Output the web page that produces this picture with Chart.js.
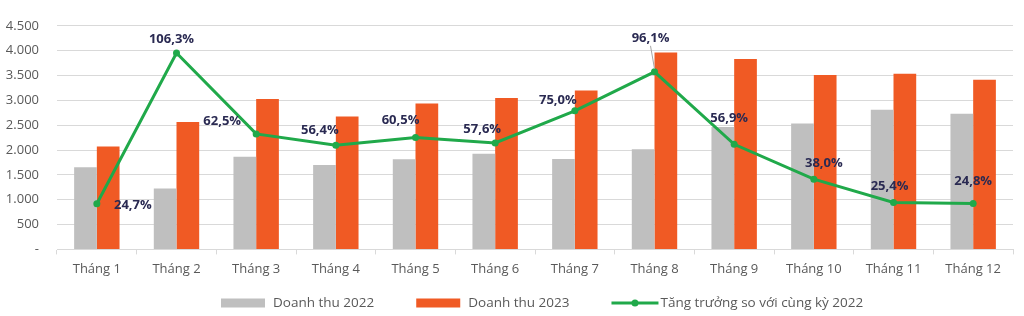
<!DOCTYPE html>
<html>
<head>
<meta charset="utf-8">
<script src="https://cdn.jsdelivr.net/npm/chart.js@4"></script>
<style>
    html, body { margin: 0; padding: 0; background: #ffffff; }
    #wrap { width: 1024px; height: 316px; }
</style>
</head>
<body>
<div id="wrap"><canvas id="revenueChart" width="1024" height="316"></canvas></div>
<script>
// dữ liệu
const months = ['Tháng 1', 'Tháng 2', 'Tháng 3', 'Tháng 4', 'Tháng 5', 'Tháng 6',
                'Tháng 7', 'Tháng 8', 'Tháng 9', 'Tháng 10', 'Tháng 11', 'Tháng 12'];
const revenue2022 = [1655, 1227, 1864, 1700, 1812, 1923, 1819, 2016, 2463, 2535, 2811, 2732];
const revenue2023 = [2069, 2562, 3028, 2673, 2937, 3048, 3199, 3962, 3830, 3509, 3535, 3416];
const growthPct = [24.7, 106.3, 62.5, 56.4, 60.5, 57.6, 75.0, 96.1, 56.9, 38.0, 25.4, 24.8];
const yTicks = [0, 500, 1000, 1500, 2000, 2500, 3000, 3500, 4000, 4500];

// vị trí nhãn % so với điểm (chỉ là kiểu trình bày)
const labelOffsets = [[36, 2], [-5, -14], [-34, -13], [-16, -15], [-15, -17], [-13, -14],
                      [-17, -11], [-4, -34], [-5, -26], [10, -16], [-4, -16], [0, -22]];

const GREY = '#bfbfbf';
const ORANGE = '#f05a24';
const GREEN = '#20a94a';
const TEXT = '#595959';

function fmtThousand(v) {
    if (v === 0) return '-';
    return String(v).replace(/\B(?=(\d{3})+(?!\d))/g, '.');
}

function fmtPct(v) {
    return v.toFixed(1).replace('.', ',') + '%';
}

// plugin tự vẽ nhãn phần trăm trên đường tăng trưởng
const growthLabels = {
    id: 'growthLabels',
    afterDatasetsDraw(chart) {
        const meta = chart.getDatasetMeta(2);
        const ctx = chart.ctx;
        ctx.save();
        ctx.font = 'bold 13px "Open Sans"';
        ctx.fillStyle = '#2a2a52';
        ctx.textAlign = 'center';
        ctx.textBaseline = 'middle';
        meta.data.forEach((pt, i) => {
            const [dx, dy] = labelOffsets[i];
            const x = pt.x + dx;
            const y = pt.y + dy;
            if (dy < -30) {
                ctx.strokeStyle = '#a6a6a6';
                ctx.lineWidth = 1;
                ctx.beginPath();
                ctx.moveTo(x, y + 8);
                ctx.lineTo(pt.x, pt.y - 3);
                ctx.stroke();
            }
            ctx.fillText(fmtPct(growthPct[i]), x, y);
        });
        ctx.restore();
    }
};

// chú thích tự vẽ ở dưới (legend mặc định không đặt được khoảng cách như bản gốc)
const bottomLegend = {
    id: 'bottomLegend',
    afterDraw(chart) {
        const ctx = chart.ctx;
        const yMid = 303;
        let x = 221;
        ctx.save();
        ctx.font = '13.5px "Open Sans"';
        ctx.textBaseline = 'middle';
        ctx.textAlign = 'left';
        chart.data.datasets.forEach(ds => {
            if (ds.type === 'line') {
                ctx.strokeStyle = ds.borderColor;
                ctx.lineWidth = 3;
                ctx.beginPath(); ctx.moveTo(x, yMid); ctx.lineTo(x + 47, yMid); ctx.stroke();
                ctx.fillStyle = ds.borderColor;
                ctx.beginPath(); ctx.arc(x + 23.5, yMid, 3.5, 0, Math.PI * 2); ctx.fill();
                x += 49;
            } else {
                ctx.fillStyle = ds.backgroundColor;
                ctx.fillRect(x, yMid - 4.5, 44, 9);
                x += 52;
            }
            ctx.fillStyle = TEXT;
            ctx.fillText(ds.label, x, yMid);
            x += ctx.measureText(ds.label).width + 42;
        });
        ctx.restore();
    }
};

Chart.defaults.font.family = '"Open Sans", sans-serif';
Chart.defaults.color = TEXT;

const ctx = document.getElementById('revenueChart').getContext('2d');
const revenueChart = new Chart(ctx, {
    type: 'bar',
    data: {
        labels: months,
        datasets: [
            {
                label: 'Doanh thu 2022',
                data: revenue2022,
                backgroundColor: GREY,
                categoryPercentage: 0.57,
                barPercentage: 1,
                order: 2
            },
            {
                label: 'Doanh thu 2023',
                data: revenue2023,
                backgroundColor: ORANGE,
                categoryPercentage: 0.57,
                barPercentage: 1,
                order: 2
            },
            {
                type: 'line',
                label: 'Tăng trưởng so với cùng kỳ 2022',
                data: growthPct,
                yAxisID: 'y2',
                borderColor: GREEN,
                backgroundColor: GREEN,
                borderWidth: 3,
                pointRadius: 3.5,
                pointBackgroundColor: GREEN,
                pointBorderWidth: 0,
                tension: 0,
                order: 1
            }
        ]
    },
    options: {
        responsive: false,
        animation: false,
        layout: { padding: { left: 5, right: 11, top: 12, bottom: 32 } },
        scales: {
            x: {
                grid: {
                    display: true,
                    drawOnChartArea: false,
                    offset: true,
                    tickLength: 5,
                    color: '#d9d9d9'
                },
                border: { color: '#d9d9d9' },
                ticks: { font: { size: 13 }, color: TEXT, padding: 7 }
            },
            y: {
                min: 0,
                max: 4500,
                afterBuildTicks(axis) {
                    axis.ticks = yTicks.map(v => ({ value: v }));
                },
                // cố định bề rộng trục để vùng vẽ bắt đầu đúng chỗ như bản gốc
                afterFit(axis) {
                    axis.width = 52;
                },
                grid: { color: '#d9d9d9', drawTicks: false },
                border: { display: false },
                ticks: {
                    font: { size: 13 },
                    color: TEXT,
                    padding: 18,
                    callback: v => fmtThousand(v)
                }
            },
            y2: {
                display: false,
                min: 0,
                max: 121
            }
        },
        plugins: {
            tooltip: { enabled: false },
            legend: { display: false }
        }
    },
    plugins: [growthLabels, bottomLegend]
});
</script>
</body>
</html>
